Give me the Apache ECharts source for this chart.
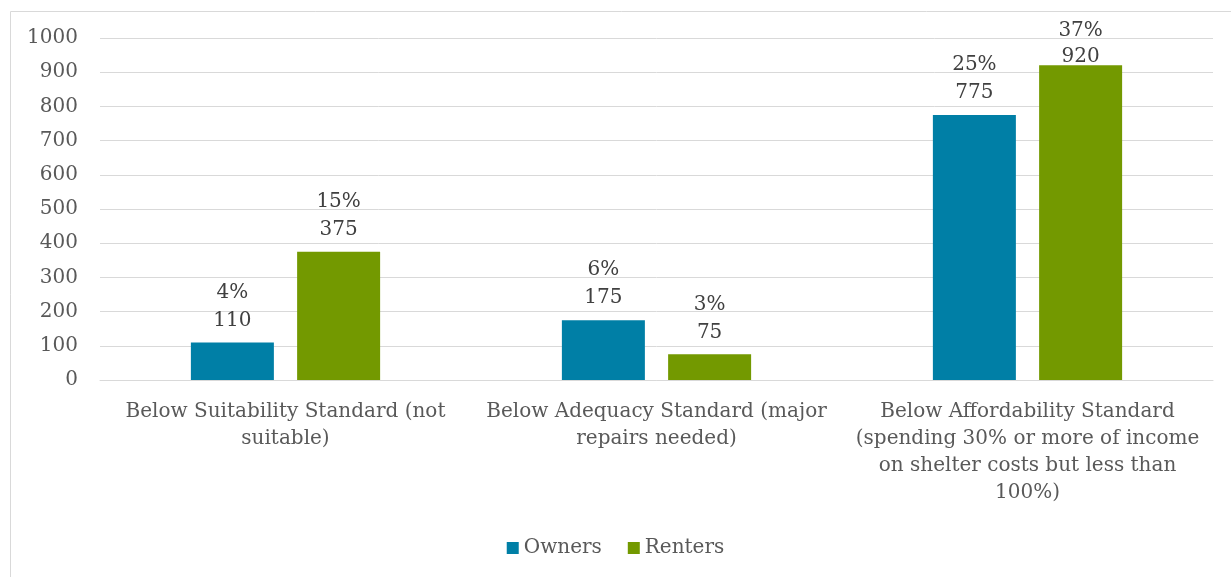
<!DOCTYPE html>
<html>
<head>
<meta charset="utf-8">
<script src="https://cdn.jsdelivr.net/npm/echarts@6/dist/echarts.min.js"></script>
<style>
  html, body { margin: 0; padding: 0; background: #fff; }
  #chart { width: 1231px; height: 577px; }
</style>
</head>
<body>
<div id="chart"></div>
<script>
// categories (line breaks as in the original chart)
const categories = [
  'Below Suitability Standard (not\nsuitable)',
  'Below Adequacy Standard (major\nrepairs needed)',
  'Below Affordability Standard\n(spending 30% or more of income\non shelter costs but less than\n100%)'
];
const ownersValues = [110, 175, 775];
const rentersValues = [375, 75, 920];
const ownersShare = ['4%', '6%', '25%'];
const rentersShare = ['15%', '3%', '37%'];

const FONT = 'DejaVu Serif';
const TEXT = '#595959';
const LABEL = '#404040';

const chart = echarts.init(document.getElementById('chart'));

function barLabel(shares) {
  return {
    show: true,
    position: 'top',
    distance: 8,
    fontFamily: FONT,
    fontSize: 20,
    lineHeight: 28,
    color: LABEL,
    formatter: p => shares[p.dataIndex] + '\n' + p.value
  };
}

// the tallest label is squeezed against its bar, as in the original
const rentersData = rentersValues.map((v, i) =>
  i === 2 ? { value: v, label: { distance: -4, lineHeight: 26 } } : v);

chart.setOption({
  animation: false,
  graphic: [{
    type: 'rect',
    left: 8, top: 9,
    shape: { width: 1222, height: 580 },
    style: { fill: 'none', stroke: '#d9d9d9', lineWidth: 1 }
  }],
  grid: { left: 100, right: 18, top: 38, bottom: 197 },
  legend: {
    bottom: 14,
    left: 'center',
    itemWidth: 12,
    itemHeight: 12,
    itemGap: 26,
    icon: 'rect',
    textStyle: { fontFamily: FONT, fontSize: 20, color: TEXT }
  },
  xAxis: {
    type: 'category',
    data: categories,
    axisLine: { lineStyle: { color: '#d9d9d9' } },
    axisTick: { show: false },
    axisLabel: {
      interval: 0,
      margin: 18,
      fontFamily: FONT,
      fontSize: 20,
      lineHeight: 27,
      color: TEXT,
      align: 'center'
    }
  },
  yAxis: {
    type: 'value',
    min: 0,
    max: 1000,
    interval: 100,
    axisLine: { show: false },
    axisTick: { show: false },
    splitLine: { lineStyle: { color: '#d9d9d9', width: 1 } },
    axisLabel: {
      fontFamily: FONT,
      fontSize: 20,
      color: TEXT,
      margin: 22,
      formatter: v => String(v)
    }
  },
  series: [
    {
      name: 'Owners',
      type: 'bar',
      data: ownersValues,
      barWidth: 83,
      barGap: '28%',
      itemStyle: { color: '#007fa6' },
      label: barLabel(ownersShare)
    },
    {
      name: 'Renters',
      type: 'bar',
      data: rentersData,
      barWidth: 83,
      barGap: '28%',
      itemStyle: { color: '#739900' },
      label: barLabel(rentersShare)
    }
  ]
});
</script>
</body>
</html>
